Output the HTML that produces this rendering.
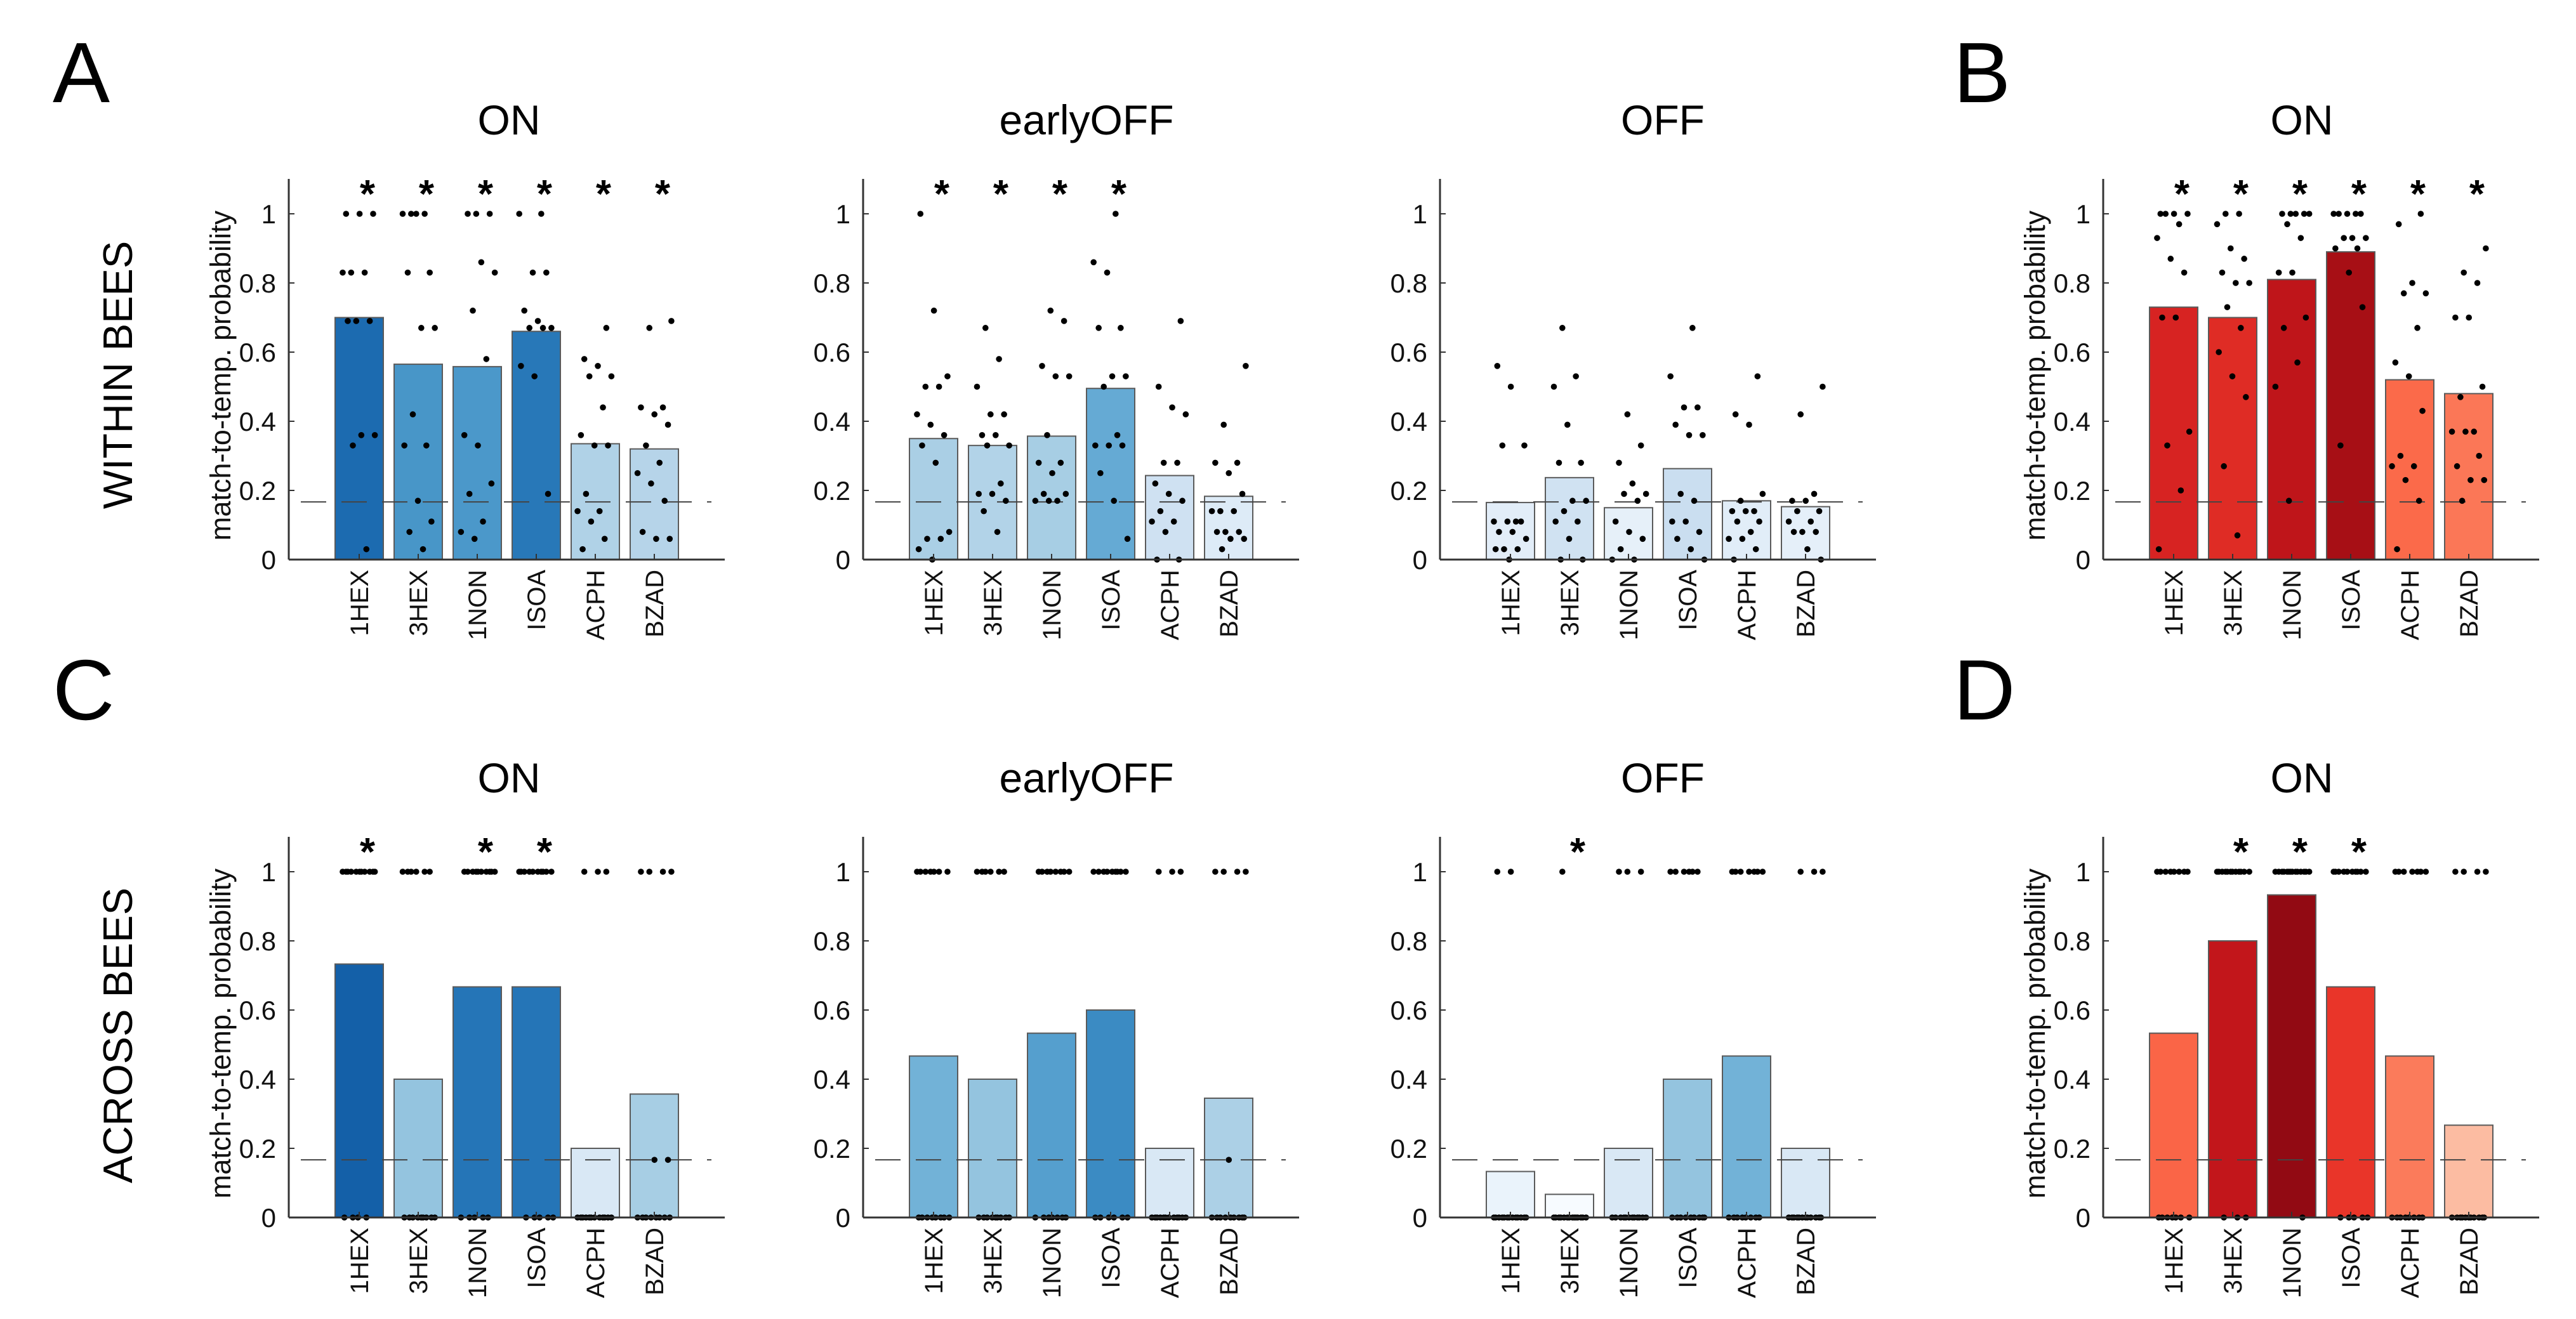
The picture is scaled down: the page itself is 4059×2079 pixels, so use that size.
<!DOCTYPE html>
<html><head><meta charset="utf-8">
<style>
html,body{margin:0;padding:0;background:#fff;}
svg{display:block;font-family:"Liberation Sans",Arial,sans-serif;}
</style></head>
<body>
<svg id="fig" width="4059" height="2079" viewBox="0 0 4059 2079" xmlns="http://www.w3.org/2000/svg">
<text x="83" y="161" font-size="135">A</text>
<text x="3078" y="161" font-size="135">B</text>
<text x="83" y="1134" font-size="135">C</text>
<text x="3078" y="1134" font-size="135">D</text>
<text transform="translate(208,591) rotate(-90)" text-anchor="middle" font-size="65">WITHIN BEES</text>
<text transform="translate(208,1632) rotate(-90)" text-anchor="middle" font-size="65">ACROSS BEES</text>
</svg>
<script>
const categories = ["1HEX","3HEX","1NON","ISOA","ACPH","BZAD"];
const yTicks = [0,0.2,0.4,0.6,0.8,1];
const yTickLabels = ["0","0.2","0.4","0.6","0.8","1"];
const chanceLevel = 0.1667;

// Panel A - within bees
const aOnBars = [0.70,0.565,0.558,0.66,0.335,0.32];
const aOnStars = [1,1,1,1,1,1];
const aOnDots = [
 [1,1,1,0.83,0.83,0.83,0.69,0.69,0.69,0.36,0.36,0.33,0.03],
 [1,1,1,1,0.83,0.83,0.67,0.67,0.42,0.33,0.33,0.17,0.11,0.08,0.03],
 [1,1,1,0.86,0.83,0.72,0.58,0.36,0.33,0.22,0.19,0.11,0.08,0.06],
 [1,1,0.83,0.83,0.72,0.69,0.67,0.67,0.67,0.56,0.53,0.19],
 [0.67,0.58,0.56,0.53,0.53,0.44,0.36,0.33,0.33,0.19,0.14,0.14,0.11,0.06,0.03],
 [0.69,0.67,0.44,0.44,0.42,0.39,0.33,0.28,0.25,0.22,0.17,0.08,0.06,0.06]];
const aEarlyBars = [0.35,0.33,0.357,0.495,0.243,0.183];
const aEarlyStars = [1,1,1,1,0,0];
const aEarlyDots = [
 [1,0.72,0.53,0.5,0.5,0.42,0.39,0.36,0.33,0.28,0.08,0.06,0.06,0.03,0],
 [0.67,0.58,0.5,0.42,0.42,0.36,0.36,0.33,0.33,0.22,0.19,0.19,0.17,0.14,0.08],
 [0.72,0.69,0.56,0.53,0.53,0.36,0.28,0.28,0.25,0.19,0.19,0.17,0.17,0.17],
 [1,0.86,0.83,0.67,0.67,0.53,0.53,0.5,0.36,0.33,0.33,0.33,0.25,0.17,0.06],
 [0.69,0.5,0.44,0.42,0.28,0.28,0.22,0.19,0.17,0.14,0.11,0.11,0.08,0,0],
 [0.56,0.39,0.28,0.28,0.25,0.19,0.14,0.14,0.14,0.08,0.08,0.08,0.06,0.06,0.03]];
const aOffBars = [0.165,0.237,0.15,0.263,0.17,0.153];
const aOffStars = [0,0,0,0,0,0];
const aOffDots = [
 [0.56,0.5,0.33,0.33,0.11,0.11,0.11,0.11,0.08,0.08,0.06,0.03,0.03,0.03,0],
 [0.67,0.53,0.5,0.39,0.28,0.28,0.17,0.17,0.14,0.11,0.11,0.06,0,0],
 [0.42,0.33,0.28,0.22,0.19,0.19,0.17,0.11,0.08,0.06,0.03,0,0],
 [0.67,0.53,0.44,0.44,0.39,0.36,0.36,0.19,0.17,0.11,0.11,0.08,0.06,0.03,0],
 [0.53,0.42,0.39,0.19,0.17,0.14,0.14,0.14,0.11,0.11,0.08,0.06,0.06,0.03,0],
 [0.5,0.42,0.19,0.17,0.17,0.14,0.14,0.11,0.11,0.08,0.08,0.08,0.03,0]];
// Panel B
const bOnBars = [0.73,0.70,0.81,0.89,0.52,0.48];
const bOnStars = [1,1,1,1,1,1];
const bOnDots = [
 [1,1,1,1,0.97,0.93,0.87,0.83,0.7,0.7,0.37,0.33,0.2,0.03],
 [1,1,0.97,0.9,0.87,0.83,0.8,0.8,0.73,0.67,0.6,0.53,0.47,0.27,0.07],
 [1,1,1,1,1,0.97,0.93,0.83,0.83,0.7,0.67,0.57,0.5,0.17],
 [1,1,1,1,1,0.93,0.93,0.93,0.9,0.9,0.83,0.73,0.33],
 [1,0.97,0.8,0.77,0.77,0.67,0.57,0.53,0.43,0.3,0.27,0.27,0.23,0.17,0.03],
 [0.9,0.83,0.8,0.7,0.7,0.5,0.47,0.37,0.37,0.37,0.3,0.27,0.23,0.23,0.17]];
// Panel C - across bees
const cOnBars = [0.733,0.40,0.667,0.667,0.20,0.357];
const cOnStars = [1,0,1,1,0,0];
const cOnDots = [
 [1,1,1,1,1,1,1,1,1,1,1,0,0,0,0],
 [1,1,1,1,1,1,0,0,0,0,0,0,0,0,0],
 [1,1,1,1,1,1,1,1,1,1,0,0,0,0,0],
 [1,1,1,1,1,1,1,1,1,1,0,0,0,0,0],
 [1,1,1,0,0,0,0,0,0,0,0,0,0,0,0],
 [1,1,1,1,0.1667,0.1667,0,0,0,0,0,0,0,0]];
const cEarlyBars = [0.467,0.40,0.533,0.60,0.20,0.345];
const cEarlyStars = [0,0,0,0,0,0];
const cEarlyDots = [
 [1,1,1,1,1,1,1,0,0,0,0,0,0,0,0],
 [1,1,1,1,1,1,0,0,0,0,0,0,0,0,0],
 [1,1,1,1,1,1,1,1,0,0,0,0,0,0,0],
 [1,1,1,1,1,1,1,1,1,0,0,0,0,0,0],
 [1,1,1,0,0,0,0,0,0,0,0,0,0,0,0],
 [1,1,1,1,0.1667,0,0,0,0,0,0,0,0,0]];
const cOffBars = [0.133,0.067,0.20,0.40,0.467,0.20];
const cOffStars = [0,1,0,0,0,0];
const cOffDots = [
 [1,1,0,0,0,0,0,0,0,0,0,0,0,0,0],
 [1,0,0,0,0,0,0,0,0,0,0,0,0,0,0],
 [1,1,1,0,0,0,0,0,0,0,0,0,0,0,0],
 [1,1,1,1,1,1,0,0,0,0,0,0,0,0,0],
 [1,1,1,1,1,1,1,0,0,0,0,0,0,0,0],
 [1,1,1,0,0,0,0,0,0,0,0,0,0,0,0]];
// Panel D
const dOnBars = [0.533,0.80,0.933,0.667,0.467,0.267];
const dOnStars = [0,1,1,1,0,0];
const dOnDots = [
 [1,1,1,1,1,1,1,1,0,0,0,0,0,0,0],
 [1,1,1,1,1,1,1,1,1,1,1,1,0,0,0],
 [1,1,1,1,1,1,1,1,1,1,1,1,1,1,0],
 [1,1,1,1,1,1,1,1,1,1,0,0,0,0,0],
 [1,1,1,1,1,1,1,0,0,0,0,0,0,0,0],
 [1,1,1,1,0,0,0,0,0,0,0,0,0,0,0]];

const NS = "http://www.w3.org/2000/svg";
const svg = document.getElementById("fig");
const BLUES = ["#f7fbff","#deebf7","#c6dbef","#9ecae1","#6baed6","#4292c6","#2171b5","#08519c","#08306b"];
const REDS  = ["#fff5f0","#fee0d2","#fcbba1","#fc9272","#fb6a4a","#ef3b2c","#cb181d","#a50f15","#67000d"];
function hx(c){return [1,3,5].map(i=>parseInt(c.substr(i,2),16));}
function cmap(stops,t){
  t=Math.max(0,Math.min(1,t)); const s=t*(stops.length-1); const i=Math.min(stops.length-2,Math.floor(s)); const f=s-i;
  const a=hx(stops[i]), b=hx(stops[i+1]);
  return "rgb("+a.map((v,k)=>Math.round(v+(b[k]-v)*f)).join(",")+")";
}
function mk(tag,attrs,parent){const e=document.createElementNS(NS,tag);for(const k in attrs)e.setAttribute(k,attrs[k]);(parent||svg).appendChild(e);return e;}

function panel(o){
  const g=mk("g",{});
  
  
  const L=o.left, W=687, base=o.base, unit=545;
  const xs=i=>L+111+93*i;
  const ys=v=>base-v*unit;
  const t=mk("text",{x:o.titleX,y:o.base-670,"font-size":66,"text-anchor":"middle"},g);
  t.textContent=o.title;
  
  
  o.bars.forEach((v,i)=>{
    const col=o.red?cmap(REDS,v-0.02):cmap(BLUES,(v-0.08)/0.8);
    const r=mk("rect",{x:xs(i)-38,y:ys(v),width:76,height:v*unit,fill:col,stroke:"#5a5a5a","stroke-width":2},g);
    
    
  });
  const dl=mk("line",{x1:L+19,x2:L+666,y1:ys(chanceLevel),y2:ys(chanceLevel),stroke:"#444","stroke-width":2,"stroke-dasharray":"40 24"},g);
  
  
  o.dots.forEach((arr,i)=>{
    arr.forEach((v,k)=>{
      const fr=((k*0.381+i*0.17+0.13)%1)-0.5;
      const c=mk("circle",{cx:xs(i)+fr*56,cy:ys(v),r:4.8,fill:"#000"},g);
      
      
    });
  });
  o.stars.forEach((s,i)=>{
    if(!s) return;
    const st=mk("text",{x:xs(i)+13,y:base-555,"font-size":62,"font-weight":"bold","text-anchor":"middle"},g);
    st.textContent="*";
    
    
  });
  const ya=mk("line",{x1:L,x2:L,y1:base-600,y2:base,stroke:"#333","stroke-width":3},g);
  
  
  const xa=mk("line",{x1:L,x2:L+W,y1:base,y2:base,stroke:"#333","stroke-width":3},g);
  
  
  yTicks.forEach((v,i)=>{
    mk("line",{x1:L,x2:L+9,y1:ys(v),y2:ys(v),stroke:"#333","stroke-width":2},g);
    const tl=mk("text",{x:L-20,y:ys(v)+15,"font-size":42,"text-anchor":"end",fill:"#111"},g);
    tl.textContent=yTickLabels[i];
    
    
  });
  categories.forEach((c,i)=>{
    mk("line",{x1:xs(i),x2:xs(i),y1:base,y2:base-9,stroke:"#333","stroke-width":2},g);
    const tl=mk("text",{transform:"translate("+(xs(i)+14)+","+(base+16)+") rotate(-90)","font-size":40,"text-anchor":"end",fill:"#111"},g);
    tl.textContent=c;
    
    
  });
  if(o.ylabel){
    const yl=mk("text",{transform:"translate("+(L-92)+","+(base-290)+") rotate(-90)","font-size":45,"text-anchor":"middle",fill:"#111"},g);
    yl.textContent="match-to-temp. probability";
    
    
  }
}
const TOP=882, BOT=1919;
panel({name:"panel-a-on",left:455,base:TOP,titleX:802,title:"ON",bars:aOnBars,dots:aOnDots,stars:aOnStars,ylabel:true});
panel({name:"panel-a-earlyoff",left:1360,base:TOP,titleX:1712,title:"earlyOFF",bars:aEarlyBars,dots:aEarlyDots,stars:aEarlyStars});
panel({name:"panel-a-off",left:2269,base:TOP,titleX:2620,title:"OFF",bars:aOffBars,dots:aOffDots,stars:aOffStars});
panel({name:"panel-b-on",left:3314,base:TOP,titleX:3627,title:"ON",bars:bOnBars,dots:bOnDots,stars:bOnStars,ylabel:true,red:true});
panel({name:"panel-c-on",left:455,base:BOT,titleX:802,title:"ON",bars:cOnBars,dots:cOnDots,stars:cOnStars,ylabel:true});
panel({name:"panel-c-earlyoff",left:1360,base:BOT,titleX:1712,title:"earlyOFF",bars:cEarlyBars,dots:cEarlyDots,stars:cEarlyStars});
panel({name:"panel-c-off",left:2269,base:BOT,titleX:2620,title:"OFF",bars:cOffBars,dots:cOffDots,stars:cOffStars});
panel({name:"panel-d-on",left:3314,base:BOT,titleX:3627,title:"ON",bars:dOnBars,dots:dOnDots,stars:dOnStars,ylabel:true,red:true});
</script>
</body></html>
